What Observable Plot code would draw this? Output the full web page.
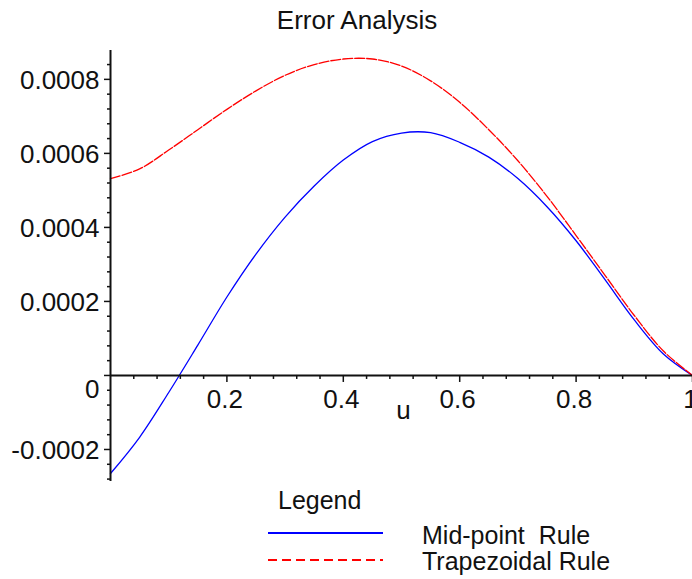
<!DOCTYPE html>
<html><head><meta charset="utf-8">
<script src="https://cdn.jsdelivr.net/npm/d3@7"></script>
<script src="https://cdn.jsdelivr.net/npm/@observablehq/plot@0.6"></script>
<style>
body{margin:0;background:#fff;}
#wrap{position:relative;width:692px;height:579px;overflow:hidden;font-family:"Liberation Sans",Arial,sans-serif;color:#111;background:#fff;}
.t{position:absolute;white-space:pre;line-height:1;}
</style></head><body>
<div id="wrap">
<div class="t" style="font-size:26px;top:7px;left:357px;transform:translateX(-50%)">Error Analysis</div>
<div id="chart" style="position:absolute;left:0;top:40px;"></div>
<svg id="legend" style="position:absolute;left:0;top:0" width="692" height="579"></svg>
<div class="t" style="font-size:25px;top:488px;left:278px">Legend</div>
<div class="t" id="lab0" style="font-size:25px;top:523px;left:422px"></div>
<div class="t" id="lab1" style="font-size:25px;top:549px;left:422px"></div>
</div>
<script>
const chartTitle = "Error Analysis";
const seriesNames = ["Mid-point  Rule", "Trapezoidal Rule"];
const seriesColors = ["#0000ff", "#ff0000"];
const uValues = [0, 0.05, 0.1, 0.15, 0.2, 0.25, 0.3, 0.35, 0.4, 0.45, 0.5, 0.55, 0.6, 0.65, 0.7, 0.75, 0.8, 0.85, 0.9, 0.95, 1];
const midpointError = [-0.000265, -0.000167, -0.000046, 0.000082, 0.000212, 0.000328, 0.000428, 0.000512, 0.000582, 0.000632, 0.000655, 0.000656, 0.00063, 0.00059, 0.000532, 0.000456, 0.000364, 0.000258, 0.00015, 0.000058, 0];
const trapezoidalError = [0.000532, 0.000558, 0.000609, 0.000664, 0.000719, 0.000769, 0.000811, 0.00084, 0.000855, 0.000855, 0.000836, 0.000796, 0.000738, 0.000664, 0.00058, 0.000484, 0.000378, 0.00027, 0.000162, 0.000066, 0];
const xMajorTicks = [0.2, 0.4, 0.6, 0.8, 1];
const xTickLabels = ["0.2", "0.4", "0.6", "0.8", "1"];
const xMinorTicks = [0.04, 0.08, 0.12, 0.16, 0.24, 0.28, 0.32, 0.36, 0.44, 0.48, 0.52, 0.56, 0.64, 0.68, 0.72, 0.76, 0.84, 0.88, 0.92, 0.96];
const yMajorTicks = [-0.0002, 0, 0.0002, 0.0004, 0.0006, 0.0008];
const yTickLabels = ["-0.0002", "0", "0.0002", "0.0004", "0.0006", "0.0008"];
const yMinorTicks = [-0.00028, -0.00024, -0.00016, -0.00012, -0.00008, -0.00004, 0.00004, 0.00008, 0.00012, 0.00016, 0.00024, 0.00028, 0.00032, 0.00036, 0.00044, 0.00048, 0.00052, 0.00056, 0.00064, 0.00068, 0.00072, 0.00076, 0.00084];
const xAxisLabel = "u";

const mid = uValues.map((u, i) => ({u, v: midpointError[i]}));
const trap = uValues.map((u, i) => ({u, v: trapezoidalError[i]}));
const xLab = xMajorTicks.map((t, i) => ({t, label: xTickLabels[i]}));
const yLab = yMajorTicks.map((t, i) => ({t, label: yTickLabels[i]}));
const axisColor = "#111";
const font = "Liberation Sans, Arial, sans-serif";

const chart = Plot.plot({
  width: 692, height: 450,
  marginLeft: 110, marginRight: 0, marginTop: 10, marginBottom: 9,
  x: {domain: [0, 1], axis: null},
  y: {domain: [-0.0002865, 0.000878], axis: null},
  style: {fontFamily: font, color: "#111", background: "transparent", overflow: "visible"},
  marks: [
    Plot.line(mid, {x: "u", y: "v", stroke: seriesColors[0], strokeWidth: 1.3, curve: "catmull-rom"}),
    Plot.line(trap, {x: "u", y: "v", stroke: seriesColors[1], strokeWidth: 1.3, strokeDasharray: "10,2", curve: "catmull-rom"}),
    Plot.ruleX([0], {stroke: axisColor, strokeWidth: 2}),
    Plot.ruleY([0], {stroke: axisColor, strokeWidth: 2}),
    Plot.ruleX(xMajorTicks, {x: d => d, y1: 0, y2: 0, insetBottom: -7, stroke: axisColor, strokeWidth: 1.5}),
    Plot.ruleX(xMinorTicks, {x: d => d, y1: 0, y2: 0, insetBottom: -4, stroke: axisColor, strokeWidth: 1.5}),
    Plot.ruleY(yMajorTicks, {y: d => d, x1: 0, x2: 0, insetLeft: -6, stroke: axisColor, strokeWidth: 1.5}),
    Plot.ruleY(yMinorTicks, {y: d => d, x1: 0, x2: 0, insetLeft: -3, stroke: axisColor, strokeWidth: 1.5}),
    Plot.text(xLab, {x: "t", y: 0, text: "label", dy: 24, dx: -2, fontSize: 26, fill: "#111"}),
    Plot.text(yLab.filter(d => d.t !== 0), {x: 0, y: "t", text: "label", textAnchor: "end", dx: -11, dy: 1, fontSize: 26, fill: "#111"}),
    Plot.text(yLab.filter(d => d.t === 0), {x: 0, y: "t", text: "label", textAnchor: "end", dx: -11, dy: 14, fontSize: 26, fill: "#111"}),
    Plot.text([xAxisLabel], {x: 0.5, y: 0, text: d => d, dx: 2, dy: 35, fontSize: 26, fill: "#111"})
  ]
});
document.getElementById("chart").append(chart);

document.getElementById("lab0").textContent = seriesNames[0];
document.getElementById("lab1").textContent = seriesNames[1];
const lg = d3.select("#legend");
lg.append("line").attr("x1", 268).attr("x2", 383).attr("y1", 533).attr("y2", 533)
  .attr("stroke", seriesColors[0]).attr("stroke-width", 2);
lg.append("line").attr("x1", 268).attr("x2", 383).attr("y1", 560).attr("y2", 560)
  .attr("stroke", seriesColors[1]).attr("stroke-width", 2).attr("stroke-dasharray", "9,5");
</script>
</body></html>
